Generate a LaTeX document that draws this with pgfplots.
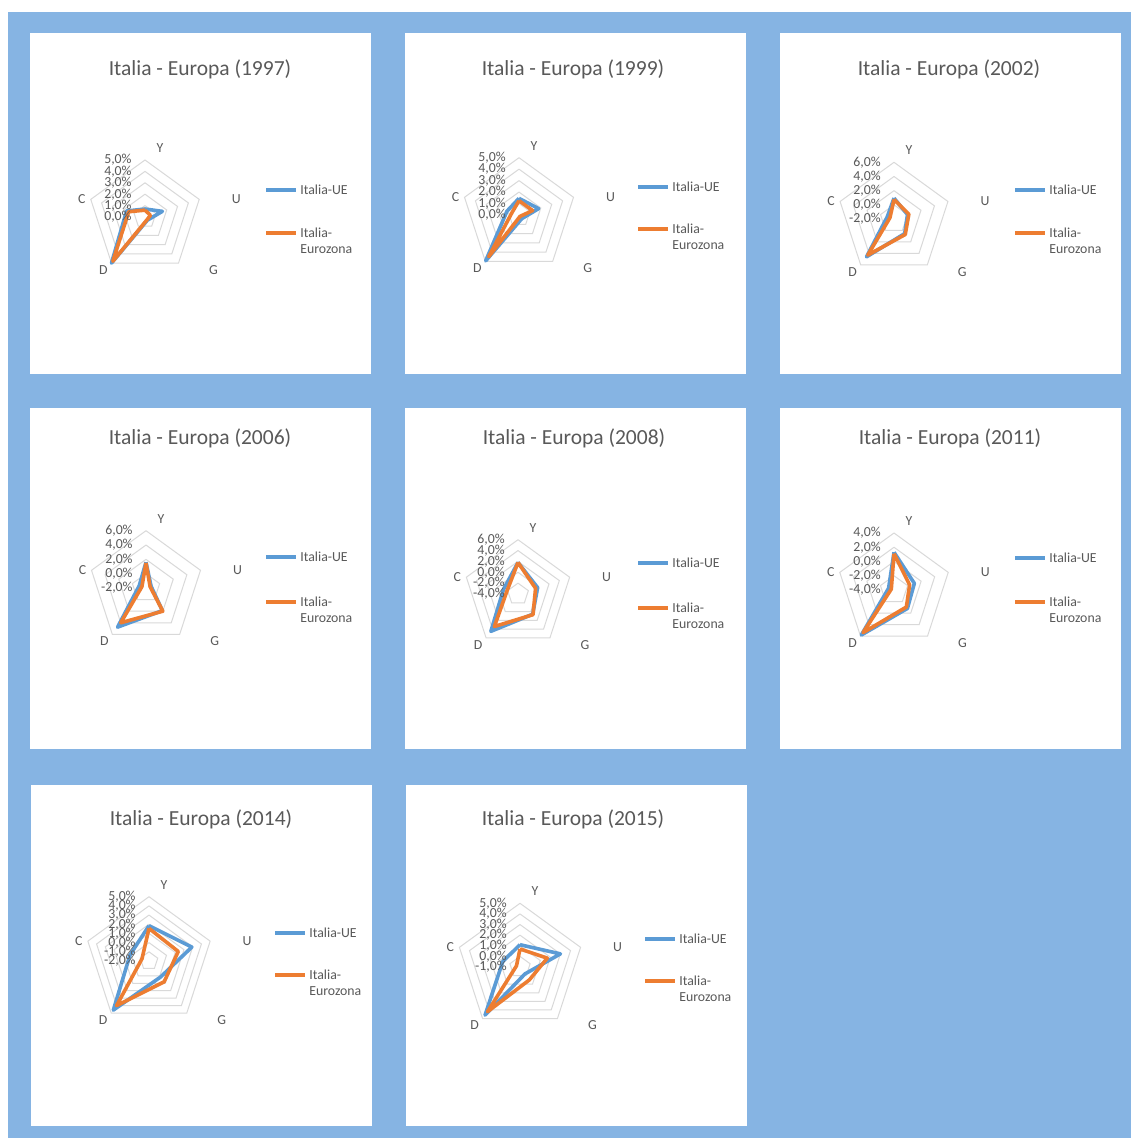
\documentclass[border=0pt]{standalone}
\usepackage{pgfplots}
\pgfplotsset{compat=1.18}
\usepgfplotslibrary{polar}
\usepackage{fontspec}
\setmainfont{Carlito}
\definecolor{bgblue}{HTML}{86B4E3}
\definecolor{ser1}{HTML}{5B9BD5}
\definecolor{ser2}{HTML}{ED7D31}
\definecolor{gridc}{HTML}{D9D9D9}
\definecolor{txt}{HTML}{595959}
\newcommand{\sm}{\fontsize{6.9}{8}\selectfont}
\pgfplotsset{
  radar/.style={scale only axis, hide axis, anchor=center, xmin=0, xmax=360, ymin=0, clip=false},
  s1/.style={ser1, line width=1.8pt, line join=round, mark=none},
  s2/.style={ser2, line width=1.8pt, line join=round, mark=none},
  gr/.style={gridc, line width=0.5pt, mark=none},
  rl/.style={draw=none, mark=none, nodes near coords, point meta=explicit symbolic,
    every node near coord/.style={anchor=east, xshift=-6.5pt, font=\sm, text=txt, inner sep=0pt}},
}
\tikzset{cl/.style={font=\sm, text=txt, inner sep=0pt}}
\newcommand{\cats}[1]{%
  \node[cl,xshift=7.5pt,yshift=6pt] at (axis cs:90,#1) {Y};
  \node[cl,xshift=18.5pt] at (axis cs:18,#1) {U};
  \node[cl,xshift=17.5pt,yshift=-3.5pt] at (axis cs:306,#1) {G};
  \node[cl,xshift=-4pt,yshift=-3.5pt] at (axis cs:234,#1) {D};
  \node[cl,xshift=-4.5pt] at (axis cs:162,#1) {C};}
\newcommand{\ring}[1]{\addplot[gr] coordinates {(90,#1)(18,#1)(306,#1)(234,#1)(162,#1)(90,#1)};}
\newcommand{\leg}[3]{%
  \draw[ser1, line width=1.8pt] (#1,#2) -- ++(30,0);
  \node[cl, anchor=west] at (#1+34,#2) {Italia-UE};
  \draw[ser2, line width=1.8pt] (#1,#3) -- ++(30,0);
  \node[cl, anchor=west] at (#1+34,#3) {Italia-};
  \node[cl, anchor=west] at (#1+34,#3+16) {Eurozona};}
\newcommand{\ttl}[3]{\node[font=\fontsize{10.75}{13}\selectfont, text=txt] at (#1,#2) {Italia - Europa (#3)};}
\begin{document}
\begin{tikzpicture}[x=0.5pt,y=-0.5pt]
\fill[white] (0,0) rectangle (1131,1138);
\fill[bgblue] (8,12) rectangle (1131,1138);
\fill[white] (30,33) rectangle (371,374);
\fill[white] (405,33) rectangle (746,374);
\fill[white] (780,33) rectangle (1121,374);
\fill[white] (30,408) rectangle (371,749);
\fill[white] (405,408) rectangle (746,749);
\fill[white] (780,408) rectangle (1121,749);
\fill[white] (31,785) rectangle (372,1126);
\fill[white] (406,785) rectangle (747,1126);
\coordinate (c1) at (145,217);
\coordinate (c2) at (519,215);
\coordinate (c3) at (894,219);
\coordinate (c4) at (146,588);
\coordinate (c5) at (518,594);
\coordinate (c6) at (894,590);
\coordinate (c7) at (149,961);
\coordinate (c8) at (520,967);
\ttl{200}{69}{1997}\ttl{573}{69}{1999}\ttl{949}{69}{2002}
\ttl{200}{438}{2006}\ttl{574}{438}{2008}\ttl{950}{438}{2011}
\ttl{201}{819}{2014}\ttl{573}{819}{2015}
\leg{266}{190}{233}\leg{638}{187}{229}\leg{1015}{190}{233}
\leg{266}{557}{602}\leg{638}{563}{608}\leg{1015}{558}{602}
\leg{275}{933}{975}\leg{645}{939}{981}

% 1997
\begin{polaraxis}[radar, at={(c1)}, width=57pt, height=57pt, ymax=5]
\pgfplotsinvokeforeach{1,2,3,4,5}{\ring{#1}}
\addplot[s1] coordinates {(90,0.7)(18,1.6)(306,0.35)(234,5.0)(162,1.7)(90,0.7)};
\addplot[s2] coordinates {(90,0.6)(18,0.5)(306,0.3)(234,4.8)(162,1.5)(90,0.6)};
\addplot[rl] coordinates {(90,0)[0,0\%] (90,1)[1,0\%] (90,2)[2,0\%] (90,3)[3,0\%] (90,4)[4,0\%] (90,5)[5,0\%]};
\cats{5}
\end{polaraxis}
% 1999
\begin{polaraxis}[radar, at={(c2)}, width=57.3pt, height=57.3pt, ymax=5]
\pgfplotsinvokeforeach{1,2,3,4,5}{\ring{#1}}
\addplot[s1] coordinates {(90,1.45)(18,1.8)(306,0.4)(234,4.95)(162,1.1)(90,1.45)};
\addplot[s2] coordinates {(90,1.25)(18,1.25)(306,0.15)(234,4.5)(162,0.65)(90,1.25)};
\addplot[rl] coordinates {(90,0)[0,0\%] (90,1)[1,0\%] (90,2)[2,0\%] (90,3)[3,0\%] (90,4)[4,0\%] (90,5)[5,0\%]};
\cats{5}
\end{polaraxis}
% 2002
\begin{polaraxis}[radar, at={(c3)}, width=56.7pt, height=56.7pt, ymax=8, y filter/.expression={y+2}]
\pgfplotsinvokeforeach{0,2,4,6}{\ring{#1}}
\addplot[s1] coordinates {(90,0.95)(18,0.0)(306,0.55)(234,4.6)(162,-1.0)(90,0.95)};
\addplot[s2] coordinates {(90,0.75)(18,0.2)(306,0.7)(234,4.3)(162,-1.4)(90,0.75)};
\addplot[rl] coordinates {(90,-2)[-2,0\%] (90,0)[0,0\%] (90,2)[2,0\%] (90,4)[4,0\%] (90,6)[6,0\%]};
\cats{8}
\end{polaraxis}
% 2006
\begin{polaraxis}[radar, at={(c4)}, width=57.3pt, height=57.3pt, ymax=8, y filter/.expression={y+2}]
\pgfplotsinvokeforeach{0,2,4,6}{\ring{#1}}
\addplot[s1] coordinates {(90,1.6)(18,-1.25)(306,1.9)(234,4.75)(162,-1.0)(90,1.6)};
\addplot[s2] coordinates {(90,1.5)(18,-1.4)(306,2.0)(234,4.0)(162,-1.4)(90,1.5)};
\addplot[rl] coordinates {(90,-2)[-2,0\%] (90,0)[0,0\%] (90,2)[2,0\%] (90,4)[4,0\%] (90,6)[6,0\%]};
\cats{8}
\end{polaraxis}
% 2008
\begin{polaraxis}[radar, at={(c5)}, width=54.3pt, height=54.3pt, ymax=10, y filter/.expression={y+4}]
\pgfplotsinvokeforeach{-2,0,2,4,6}{\ring{#1}}
\addplot[s1] coordinates {(90,1.8)(18,-0.2)(306,0.6)(234,4.5)(162,-1.2)(90,1.8)};
\addplot[s2] coordinates {(90,1.8)(18,-0.6)(306,0.7)(234,3.4)(162,-1.9)(90,1.8)};
\addplot[rl] coordinates {(90,-4)[-4,0\%] (90,-2)[-2,0\%] (90,0)[0,0\%] (90,2)[2,0\%] (90,4)[4,0\%] (90,6)[6,0\%]};
\cats{10}
\end{polaraxis}
% 2011
\begin{polaraxis}[radar, at={(c6)}, width=57pt, height=57pt, ymax=8, y filter/.expression={y+4}]
\pgfplotsinvokeforeach{-2,0,2,4}{\ring{#1}}
\addplot[s1] coordinates {(90,1.3)(18,-1.0)(306,-0.8)(234,3.8)(162,-3.2)(90,1.3)};
\addplot[s2] coordinates {(90,1.1)(18,-1.7)(306,-1.05)(234,3.4)(162,-3.6)(90,1.1)};
\addplot[rl] coordinates {(90,-4)[-4,0\%] (90,-2)[-2,0\%] (90,0)[0,0\%] (90,2)[2,0\%] (90,4)[4,0\%]};
\cats{8}
\end{polaraxis}
% 2014
\begin{polaraxis}[radar, at={(c7)}, width=64.3pt, height=64.3pt, ymax=7, y filter/.expression={y+2}]
\pgfplotsinvokeforeach{-1,0,1,2,3,4,5}{\ring{#1}}
\addplot[s1] coordinates {(90,1.85)(18,2.9)(306,0.15)(234,4.6)(162,0.17)(90,1.85)};
\addplot[s2] coordinates {(90,1.55)(18,1.35)(306,0.8)(234,4.0)(162,-1.2)(90,1.55)};
\addplot[rl] coordinates {(90,-2)[-2,0\%] (90,-1)[-1,0\%] (90,0)[0,0\%] (90,1)[1,0\%] (90,2)[2,0\%] (90,3)[3,0\%] (90,4)[4,0\%] (90,5)[5,0\%]};
\cats{7}
\end{polaraxis}
% 2015
\begin{polaraxis}[radar, at={(c8)}, width=63.7pt, height=63.7pt, ymax=6, y filter/.expression={y+1}]
\pgfplotsinvokeforeach{0,1,2,3,4,5}{\ring{#1}}
\addplot[s1] coordinates {(90,1.1)(18,3.0)(306,-0.2)(234,4.6)(162,0.7)(90,1.1)};
\addplot[s2] coordinates {(90,0.7)(18,1.7)(306,0.5)(234,4.2)(162,-0.65)(90,0.7)};
\addplot[rl] coordinates {(90,-1)[-1,0\%] (90,0)[0,0\%] (90,1)[1,0\%] (90,2)[2,0\%] (90,3)[3,0\%] (90,4)[4,0\%] (90,5)[5,0\%]};
\cats{6}
\end{polaraxis}
\end{tikzpicture}
\end{document}
